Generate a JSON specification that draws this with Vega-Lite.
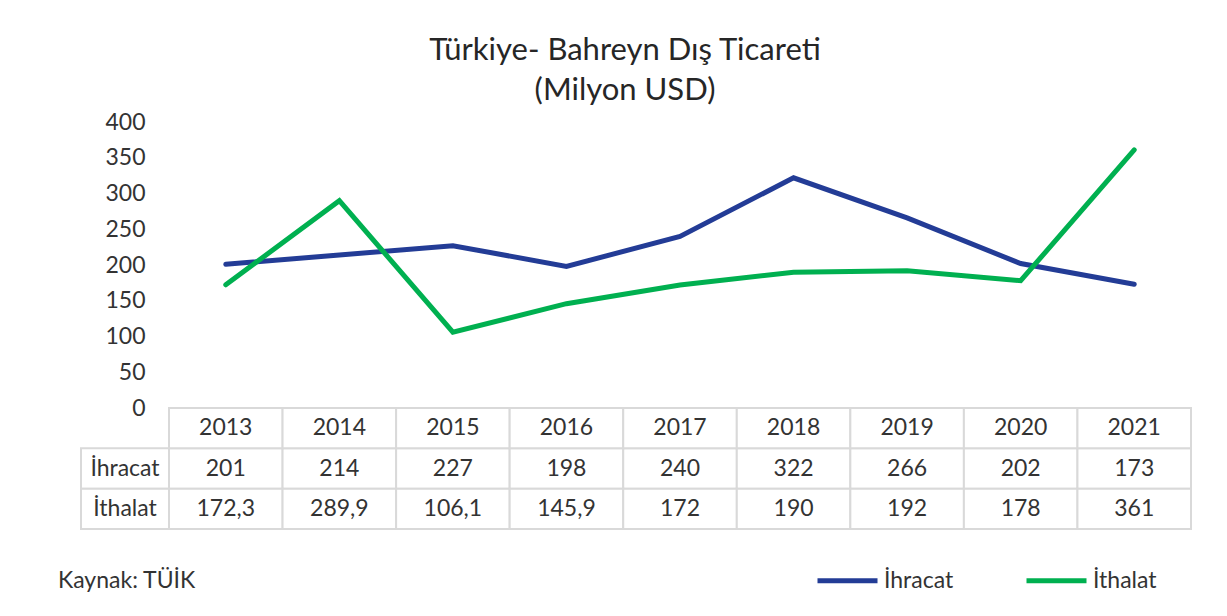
{
  "$schema": "https://vega.github.io/schema/vega-lite/v6.json",
  "background": "white",
  "padding": {"left": 58, "top": 35, "right": 30, "bottom": 20},
  "config": {
    "font": "Lato",
    "view": {"stroke": null},
    "locale": {"number": {"decimal": ",", "thousands": ".", "grouping": [3], "currency": ["", " TL"]}}
  },
  "title": {
    "text": ["Türkiye- Bahreyn Dış Ticareti", "(Milyon USD)"],
    "fontSize": 31,
    "fontWeight": "normal",
    "color": "#262626",
    "lineHeight": 40,
    "anchor": "middle",
    "dx": 0,
    "offset": 4
  },
  "datasets": {
    "trade": [
      {"year": 2013, "series": "İhracat", "value": 201},
      {"year": 2014, "series": "İhracat", "value": 214},
      {"year": 2015, "series": "İhracat", "value": 227},
      {"year": 2016, "series": "İhracat", "value": 198},
      {"year": 2017, "series": "İhracat", "value": 240},
      {"year": 2018, "series": "İhracat", "value": 322},
      {"year": 2019, "series": "İhracat", "value": 266},
      {"year": 2020, "series": "İhracat", "value": 202},
      {"year": 2021, "series": "İhracat", "value": 173},
      {"year": 2013, "series": "İthalat", "value": 172.3},
      {"year": 2014, "series": "İthalat", "value": 289.9},
      {"year": 2015, "series": "İthalat", "value": 106.1},
      {"year": 2016, "series": "İthalat", "value": 145.9},
      {"year": 2017, "series": "İthalat", "value": 172},
      {"year": 2018, "series": "İthalat", "value": 190},
      {"year": 2019, "series": "İthalat", "value": 192},
      {"year": 2020, "series": "İthalat", "value": 178},
      {"year": 2021, "series": "İthalat", "value": 361}
    ]
  },
  "columns": 2,
  "spacing": 0,
  "bounds": "flush",
  "align": "each",
  "concat": [
    {
      "width": 88,
      "height": 286,
      "data": {"name": "trade"},
      "mark": {"type": "text", "opacity": 0},
      "encoding": {}
    },
    {
      "width": 1022,
      "height": 286,
      "data": {"name": "trade"},
      "mark": {"type": "line", "strokeWidth": 5, "strokeCap": "round"},
      "encoding": {
        "x": {"field": "year", "type": "ordinal", "scale": {"type": "point", "padding": 0.5}, "axis": null},
        "y": {
          "field": "value", "type": "quantitative",
          "scale": {"domain": [0, 400], "nice": false},
          "axis": {"values": [0, 50, 100, 150, 200, 250, 300, 350, 400], "ticks": false, "domain": false, "grid": false, "labelFontSize": 23, "labelColor": "#333333", "labelPadding": 24, "title": null}
        },
        "color": {
          "field": "series", "type": "nominal",
          "scale": {"domain": ["İhracat", "İthalat"], "range": ["#233C96", "#00B050"]},
          "legend": {"orient": "none", "legendX": 734, "legendY": 426, "direction": "horizontal", "title": null, "symbolType": "stroke", "symbolSize": 3600, "symbolStrokeWidth": 5, "labelFontSize": 23, "labelColor": "#333333", "labelOffset": 4, "columnPadding": 62}
        }
      }
    },
    {
      "width": 88,
      "height": 121,
      "data": {"name": "trade"},
      "transform": [{"filter": "datum.year == 2013"}],
      "title": {"text": "Kaynak: TÜİK", "orient": "bottom", "anchor": "start", "fontSize": 23, "fontWeight": "normal", "color": "#333333", "dx": -22, "offset": 40},
      "encoding": {
        "y": {"field": "series", "type": "nominal", "scale": {"domain": [" ", "İhracat", "İthalat"], "paddingInner": 0, "paddingOuter": 0}, "axis": null}
      },
      "layer": [
        {"mark": {"type": "rect", "fill": "white", "stroke": "#D9D9D9", "strokeWidth": 2}},
        {"mark": {"type": "text", "fontSize": 23, "color": "#333333"}, "encoding": {"text": {"field": "series", "type": "nominal"}}}
      ]
    },
    {
      "width": 1022,
      "height": 121,
      "data": {"name": "trade"},
      "encoding": {
        "x": {"field": "year", "type": "ordinal", "scale": {"paddingInner": 0, "paddingOuter": 0}, "axis": null}
      },
      "layer": [
        {
          "mark": {"type": "rect", "fill": "white", "stroke": "#D9D9D9", "strokeWidth": 2},
          "encoding": {"y": {"field": "series", "type": "nominal", "scale": {"domain": [" ", "İhracat", "İthalat"], "paddingInner": 0, "paddingOuter": 0}, "axis": null}}
        },
        {
          "transform": [{"filter": "datum.series == 'İhracat'"}],
          "mark": {"type": "rect", "fill": "white", "stroke": "#D9D9D9", "strokeWidth": 2},
          "encoding": {"y": {"datum": " ", "type": "nominal"}}
        },
        {
          "mark": {"type": "text", "fontSize": 23, "color": "#333333"},
          "encoding": {
            "y": {"field": "series", "type": "nominal"},
            "text": {"field": "value", "type": "quantitative", "format": "~f"}
          }
        },
        {
          "transform": [{"filter": "datum.series == 'İhracat'"}],
          "mark": {"type": "text", "fontSize": 23, "color": "#333333"},
          "encoding": {
            "y": {"datum": " ", "type": "nominal"},
            "text": {"field": "year", "type": "ordinal"}
          }
        }
      ]
    }
  ]
}
